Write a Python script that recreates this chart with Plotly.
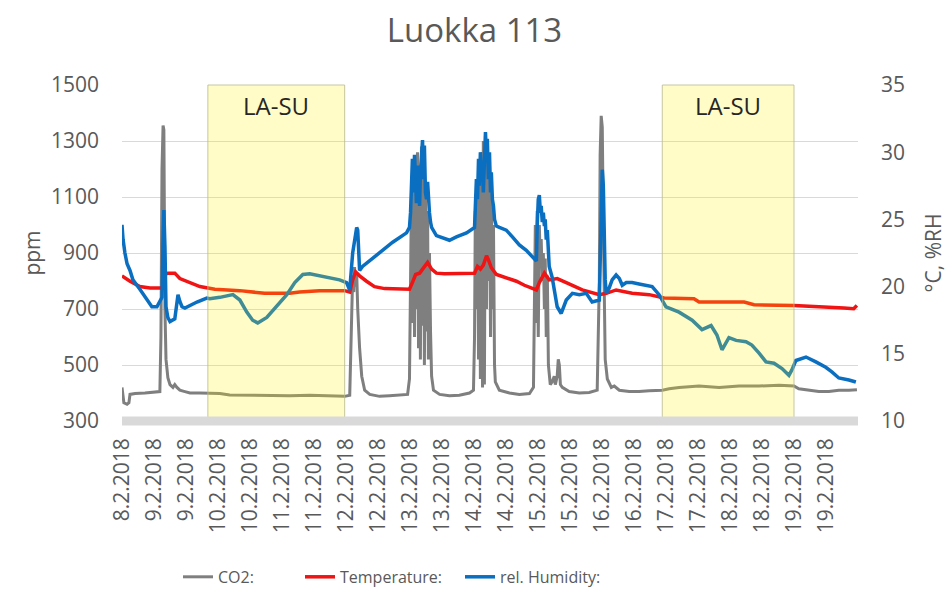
import pandas as pd
import plotly.graph_objects as go

# Logger readings for classroom 113; time is given in hours after the first sample.
START = pd.Timestamp("2018-02-08 14:00")
END_HOURS = 276

# category labels along the time axis, one every 12 hours
tick_labels = [
    "8.2.2018", "9.2.2018", "9.2.2018", "10.2.2018", "10.2.2018", "11.2.2018", "11.2.2018",
    "12.2.2018", "12.2.2018", "13.2.2018", "13.2.2018", "14.2.2018", "14.2.2018",
    "15.2.2018", "15.2.2018", "16.2.2018", "16.2.2018", "17.2.2018", "17.2.2018",
    "18.2.2018", "18.2.2018", "19.2.2018", "19.2.2018",
]
tick_hours = [12 * i for i in range(len(tick_labels))]

co2_hours = [
    0.0, 0.4, 0.7, 1.9, 2.6, 3.0, 4.9, 8.6, 12.4, 14.2, 14.6, 15.0, 15.4, 15.7, 16.1, 16.5,
    17.2, 18.0, 19.1, 19.8, 20.6, 21.7, 23.6, 25.5, 29.2, 32.9, 36.7, 40.4, 47.9, 55.4, 62.9,
    70.4, 77.9, 83.5, 85.4, 85.7, 86.1, 86.5, 86.9, 87.2, 87.6, 88.0, 88.4, 89.1, 89.9, 91.0,
    92.9, 96.6, 100.3, 104.1, 107.1, 107.8, 108.2, 108.6, 108.9, 109.3, 109.7, 110.1, 110.4,
    110.8, 111.2, 111.6, 111.9, 112.3, 112.7, 113.1, 113.4, 113.8, 114.2, 114.6, 114.9, 115.3,
    115.7, 116.1, 116.8, 119.1, 122.8, 126.5, 130.3, 131.8, 132.2, 132.5, 132.9, 133.3, 133.7,
    134.0, 134.4, 134.8, 135.2, 135.5, 135.9, 136.3, 136.7, 137.0, 137.4, 137.8, 138.2, 138.5,
    138.9, 139.3, 139.7, 140.0, 141.5, 145.3, 149.0, 152.8, 154.3, 154.6, 155.0, 155.4, 155.7,
    156.1, 156.5, 156.9, 157.2, 157.6, 158.0, 158.4, 158.7, 159.1, 159.5, 159.9, 160.2, 160.6,
    161.3, 162.1, 162.5, 163.2, 163.6, 164.0, 164.4, 165.1, 167.7, 171.5, 175.2, 178.2, 179.0,
    179.3, 179.7, 180.1, 180.5, 180.8, 181.2, 182.0, 183.5, 184.6, 186.5, 190.2, 193.9, 197.7,
    202.6, 205.2, 208.9, 216.4, 223.9, 231.4, 238.9, 246.4, 252.0, 253.8, 257.6, 261.3, 265.1,
    268.8, 272.6, 275.6,
]
co2_ppm = [
    420, 395, 365, 360, 365, 395, 398, 400, 402, 405, 600, 1200, 1355, 1340, 700, 520,
    455, 430, 420, 430, 420, 410, 405, 400, 400, 400, 398, 393, 392, 390, 390,
    392, 390, 388, 392, 500, 700, 820, 760, 850, 780, 830, 700, 560, 460, 410,
    395, 388, 390, 392, 395, 450, 900, 1150, 650, 1180, 600, 1230, 700,
    1260, 560, 1180, 520, 1280, 640, 1210, 500, 1100, 620, 1050, 520, 900,
    620, 460, 410, 395, 390, 392, 400, 410, 600, 1050, 700, 1150, 520,
    1200, 450, 1250, 420, 1300, 430, 1320, 700, 1280, 800, 1250, 600, 1150,
    700, 1000, 500, 440, 410, 400, 395, 398, 420, 700, 1000, 650, 1050,
    600, 1000, 850, 950, 800, 900, 700, 880, 600, 820, 500, 470, 430,
    440, 460, 430, 460, 520, 500, 430, 420, 405, 400, 402, 410, 800,
    1250, 1390, 1350, 1000, 700, 520, 450, 420, 425, 410, 405, 405, 408,
    410, 415, 420, 425, 420, 425, 425, 428, 425, 415, 410, 405, 405,
    410, 410, 412,
]

temp_hours = [
    0.0, 3.0, 6.7, 10.5, 15.4, 16.1, 17.2, 19.8, 21.7, 25.5, 29.2, 32.2, 34.8, 44.2, 47.9,
    53.5, 62.9, 66.6, 74.1, 83.5, 85.4, 86.5, 87.6, 89.1, 91.7, 94.7, 98.5, 107.8, 108.9,
    110.1, 111.6, 113.1, 114.6, 116.1, 117.9, 120.9, 132.2, 133.3, 134.4, 135.5, 136.7,
    137.4, 138.5, 140.4, 143.4, 147.9, 150.9, 153.9, 155.4, 156.5, 158.4, 160.2, 163.2,
    166.6, 172.6, 179.0, 181.6, 185.3, 191.3, 197.7, 201.4, 203.3, 214.5, 216.4, 233.3,
    237.0, 252.0, 265.1, 270.7, 274.4, 275.6,
]
temp_c = [
    20.8, 20.4, 20.0, 19.9, 19.9, 20.9, 21.0, 21.0, 20.6, 20.3, 20.0, 19.9, 19.8, 19.7, 19.6,
    19.5, 19.5, 19.6, 19.7, 19.7, 19.6, 20.5, 21.1, 20.8, 20.4, 20.0, 19.85, 19.8, 20.3,
    20.9, 21.0, 21.4, 21.8, 21.3, 21.0, 20.95, 21.0, 21.5, 21.3, 21.6, 22.3,
    22.0, 21.4, 20.9, 20.7, 20.4, 20.1, 19.9, 19.75, 20.3, 21.0, 20.5, 20.6,
    20.3, 19.75, 19.4, 19.5, 19.75, 19.5, 19.4, 19.2, 19.15, 19.1, 18.85, 18.85,
    18.65, 18.6, 18.5, 18.4, 18.35, 18.6,
]

rh_hours = [
    0.0, 0.4, 1.1, 1.9, 3.0, 4.1, 6.7, 9.4, 11.2, 13.1, 14.2, 15.0, 15.4, 15.7, 16.1, 16.5,
    17.2, 18.0, 19.8, 21.0, 21.7, 22.5, 23.6, 25.5, 28.1, 31.8, 32.9, 36.7, 41.6, 44.2, 46.8,
    49.0, 50.9, 54.3, 58.0, 61.8, 64.8, 67.8, 70.4, 74.1, 79.0, 81.6, 84.2, 85.4, 86.5, 88.0,
    88.4, 89.1, 90.2, 94.0, 97.7, 101.5, 106.7, 107.8, 108.2, 108.6, 108.9, 109.3, 109.7,
    110.1, 110.4, 110.8, 111.2, 111.6, 111.9, 112.3, 112.7, 113.1, 113.4, 113.8, 114.2, 114.6,
    114.9, 115.3, 115.7, 116.1, 117.9, 121.7, 122.8, 125.4, 129.2, 132.2, 132.5, 132.9, 133.3,
    133.7, 134.0, 134.4, 134.8, 135.2, 135.5, 135.9, 136.3, 136.7, 137.0, 137.4, 137.8, 138.2,
    138.5, 138.9, 139.3, 139.7, 140.4, 141.5, 144.1, 146.4, 149.0, 151.6, 153.9, 155.4, 155.7,
    156.1, 156.5, 156.9, 157.2, 157.6, 158.0, 158.4, 158.7, 159.1, 159.5, 159.9, 160.2, 161.3,
    163.2, 164.7, 166.6, 168.9, 171.5, 174.1, 176.3, 179.0, 179.3, 179.7, 180.1, 180.5, 180.8,
    181.2, 181.6, 182.7, 183.8, 185.3, 186.5, 187.6, 189.1, 191.3, 193.9, 196.6, 198.8, 201.4,
    202.6, 204.0, 208.9, 213.8, 217.5, 220.9, 223.1, 225.0, 227.6, 230.3, 234.0, 236.2, 238.9,
    241.5, 244.5, 247.5, 250.1, 251.2, 252.7, 256.5, 260.2, 263.9, 266.2, 268.8, 272.6, 275.2,
]
rh_pct = [
    24.6, 23.5, 22.5, 21.7, 21.2, 20.5, 19.8, 19.0, 18.5, 18.5, 19.0, 19.2, 23.5, 25.7, 23.0, 18.5,
    17.7, 17.4, 17.6, 19.4, 18.9, 18.5, 18.4, 18.6, 18.85, 19.15, 19.1, 19.2, 19.4, 19.0, 18.1,
    17.5, 17.3, 17.7, 18.5, 19.4, 20.3, 20.9, 20.95, 20.8, 20.6, 20.5, 20.3, 19.75, 22.5, 24.4,
    24.2, 21.2, 21.5, 22.1, 22.7, 23.3, 24.0, 24.4, 25.5, 28.5, 29.5, 27.0, 29.8,
    28.0, 26.2, 29.0, 27.5, 26.0, 28.5, 30.0, 30.9, 28.0, 30.5, 27.0, 26.5, 27.8,
    26.0, 25.5, 24.8, 24.4, 23.8, 23.5, 23.45, 23.7, 24.0, 24.4, 25.5, 28.0, 26.5,
    29.5, 27.5, 30.0, 28.5, 29.0, 27.0, 30.5, 31.5, 29.5, 31.0, 28.0, 30.0, 27.0,
    28.5, 26.5, 26.0, 25.0, 24.5, 24.4, 24.2, 23.7, 23.1, 22.7, 22.2, 21.9, 24.5,
    26.5, 26.8, 25.5, 26.0, 24.8, 25.5, 24.5, 25.0, 23.5, 24.2, 22.5, 21.5, 20.7,
    18.5, 18.0, 19.0, 19.5, 19.4, 19.5, 18.86, 19.0, 22.0, 27.0, 28.7, 27.5, 24.0,
    20.5, 19.5, 19.9, 20.5, 20.86, 20.6, 20.1, 20.3, 20.3, 20.2, 20.1, 20.0, 19.4,
    19.0, 18.5, 18.1, 17.5, 16.8, 17.1, 16.4, 15.3, 16.2, 16.0, 15.9, 15.65, 15.05,
    14.4, 14.3, 13.9, 13.4, 13.8, 14.5, 14.76, 14.4, 14.0, 13.65, 13.2, 13.05, 12.9,
]

# Weekend periods (Saturday-Sunday), start and end in hours after the first sample
weekend_spans = [(32.2, 83.5), (202.6, 252.0)]
weekend_label = "LA-SU"


def to_time(hours):
    return START + pd.to_timedelta(hours, unit="h")


FONT = "Open Sans"
GREY_TEXT = "#595959"

fig = go.Figure()
fig.add_trace(go.Scatter(
    x=to_time(co2_hours), y=co2_ppm, mode="lines", name="CO2:", showlegend=True,
    line=dict(color="#7f7f7f", width=3), yaxis="y", legend="legend",
))
fig.add_trace(go.Scatter(
    x=to_time(temp_hours), y=temp_c, mode="lines", name="Temperature:", showlegend=True,
    line=dict(color="#f01414", width=3.5), yaxis="y2", legend="legend2",
))
fig.add_trace(go.Scatter(
    x=to_time(rh_hours), y=rh_pct, mode="lines", name="rel. Humidity:", showlegend=True,
    line=dict(color="#0a6fc0", width=3.5), yaxis="y2", legend="legend3",
))

shapes = []
annotations = []
for h0, h1 in weekend_spans:
    shapes.append(dict(
        type="rect", xref="x", yref="paper", x0=to_time(h0), x1=to_time(h1), y0=0, y1=1,
        fillcolor="rgba(255,240,0,0.22)", line=dict(color="rgba(185,185,140,0.8)", width=1),
        layer="above",
    ))
    annotations.append(dict(
        x=to_time((h0 + h1) / 2), y=0.94, xref="x", yref="paper", text=weekend_label,
        showarrow=False, font=dict(family=FONT, size=24, color="#262626"),
        xanchor="center", yanchor="middle",
    ))
# thick category-axis bar along the bottom of the plot
shapes.append(dict(
    type="line", xref="paper", yref="paper", x0=0, x1=1, y0=0, y1=0,
    line=dict(color="#d9d9d9", width=9), layer="above",
))

legend_common = dict(
    orientation="h", yanchor="middle", y=-0.464, xanchor="left",
    font=dict(family=FONT, size=16, color=GREY_TEXT), bgcolor="rgba(0,0,0,0)",
    itemwidth=30, visible=True,
)

fig.update_layout(
    width=949, height=597,
    margin=dict(l=122, r=91, t=85, b=176, autoexpand=False),
    paper_bgcolor="white", plot_bgcolor="white",
    font=dict(family=FONT, color=GREY_TEXT),
    showlegend=True,
    title=dict(
        text="Luokka 113", x=0.5, xref="container", xanchor="center",
        y=1 - 30 / 597, yref="container", yanchor="middle",
        font=dict(family=FONT, size=33, color=GREY_TEXT),
    ),
    xaxis=dict(
        type="date", range=[to_time(0), to_time(END_HOURS)],
        tickmode="array", tickvals=to_time(tick_hours), ticktext=tick_labels,
        tickangle=-90,
        tickfont=dict(family=FONT, size=21, color=GREY_TEXT),
        showgrid=False, zeroline=False, showline=False, ticks="",
        ticklabelstandoff=12, automargin=False,
    ),
    yaxis=dict(
        range=[300, 1500], tick0=300, dtick=200,
        gridcolor="#d9d9d9", gridwidth=1, zeroline=False, showline=False,
        tickfont=dict(family=FONT, size=21, color=GREY_TEXT),
        ticklabelstandoff=22, automargin=False,
        title=dict(text="ppm", font=dict(family=FONT, size=21, color=GREY_TEXT), standoff=4),
    ),
    yaxis2=dict(
        overlaying="y", side="right", range=[10, 35], tick0=10, dtick=5,
        showgrid=False, zeroline=False, showline=False,
        tickfont=dict(family=FONT, size=21, color=GREY_TEXT),
        ticklabelstandoff=22, automargin=False,
        title=dict(text="°C, %RH", font=dict(family=FONT, size=21, color=GREY_TEXT), standoff=22),
    ),
    legend=dict(x=(178 - 122) / 736, **legend_common),
    legend2=dict(x=(300 - 122) / 736, **legend_common),
    legend3=dict(x=(460 - 122) / 736, **legend_common),
    shapes=shapes,
    annotations=annotations,
)

fig.write_html("out.html")
